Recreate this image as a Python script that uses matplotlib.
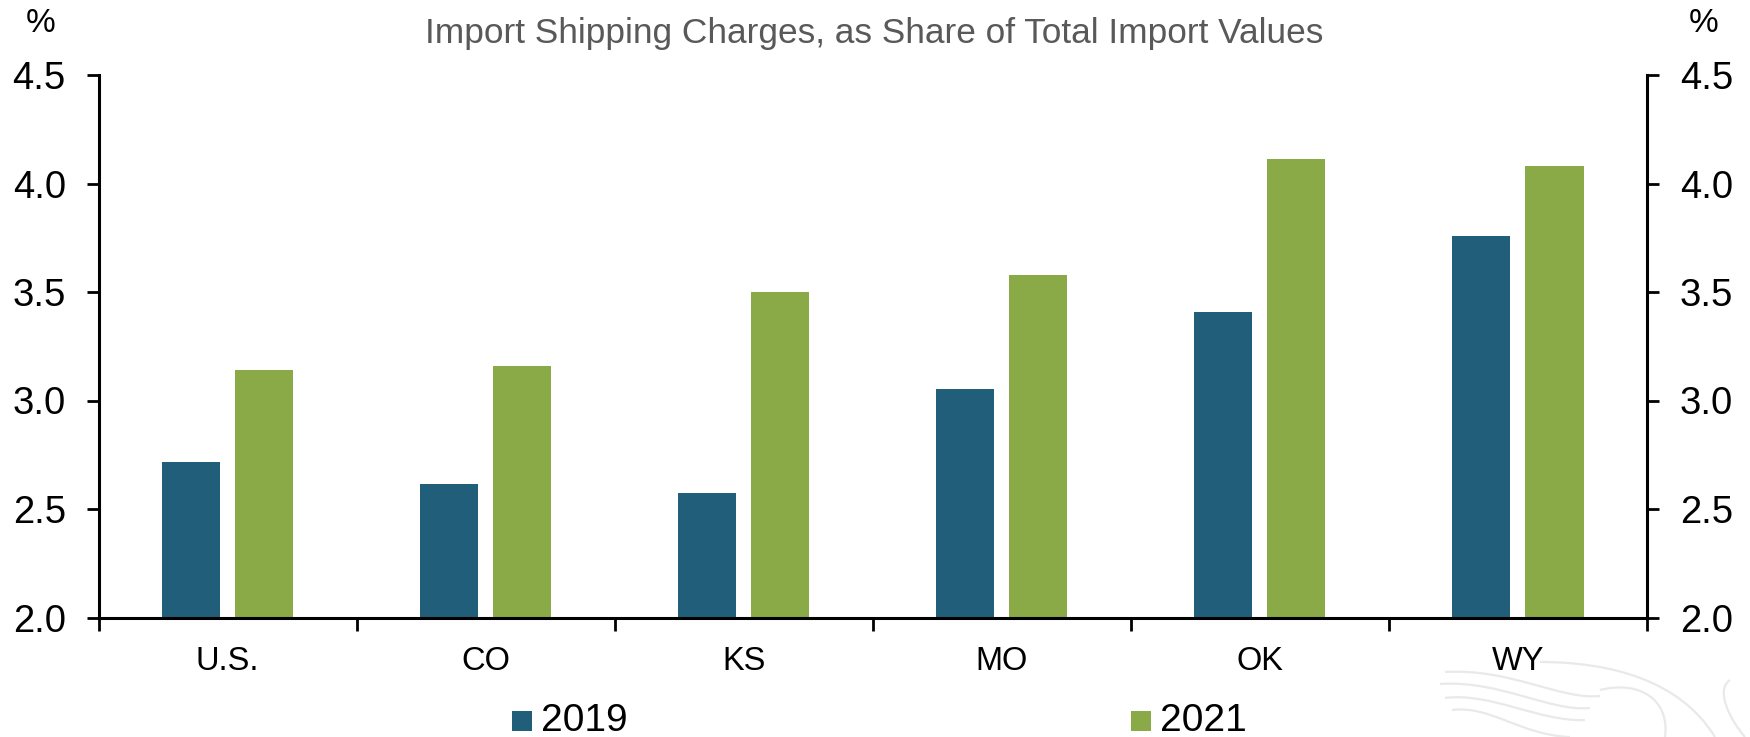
import numpy as np
import matplotlib.pyplot as plt
from matplotlib.patches import Rectangle, PathPatch
from matplotlib.path import Path

plt.rcParams['font.family'] = ['Liberation Sans', 'DejaVu Sans']

states = ['U.S.', 'CO', 'KS', 'MO', 'OK', 'WY']
share_2019 = [2.715, 2.615, 2.575, 3.055, 3.41, 3.76]
share_2021 = [3.14, 3.16, 3.50, 3.58, 4.115, 4.08]
y_ticks = [2.0, 2.5, 3.0, 3.5, 4.0, 4.5]

BLUE = '#215e7a'
GREEN = '#89aa46'
W, H = 1750, 737

fig = plt.figure(figsize=(17.5, 7.37), dpi=100, facecolor='white')
ax = fig.add_axes([98.5 / W, 1 - 617.5 / H, (1647 - 98.5) / W, (617.5 - 75) / H])

x = np.arange(len(states))
ax.bar(x - 0.1415, share_2019, width=0.225, color=BLUE, bottom=0)
ax.bar(x + 0.1415, share_2021, width=0.225, color=GREEN, bottom=0)

ax.set_xlim(-0.5, len(states) - 0.5)
ax.set_ylim(2.0, 4.5)
ax.set_yticks(y_ticks)
ax.set_yticklabels([f'{v:.1f}' for v in y_ticks], fontsize=27.5)
ax.tick_params(axis='y', direction='out', length=8.5, width=2, pad=15, labelcolor='black')
ax.tick_params(axis='y', right=True, labelright=True)

# ticks sit between the groups, labels stay centred
ax.set_xticks(np.arange(len(states) + 1) - 0.5)
ax.set_xticklabels([])
ax.tick_params(axis='x', direction='out', length=9, width=2)
for i, s in enumerate(states):
    fig.text((98.5 + 258.08 * (i + 0.5)) / W, 1 - 662 / H, s, fontsize=23.5,
             ha='center', va='center', color='black')

ax.spines['top'].set_visible(False)
for side in ['left', 'right', 'bottom']:
    ax.spines[side].set_linewidth(2.2)

fig.text(41 / W, 1 - 23 / H, '%', fontsize=24, ha='center', va='center')
fig.text(1704 / W, 1 - 23 / H, '%', fontsize=24, ha='center', va='center')
fig.text(874 / W, 1 - 33 / H, 'Import Shipping Charges, as Share of Total Import Values',
         fontsize=25.4, color='#595959', ha='center', va='center')

# legend
for px, col, lab in [(512, BLUE, '2019'), (1131, GREEN, '2021')]:
    fig.add_artist(Rectangle((px / W, 1 - 731 / H), 20 / W, 20 / H, color=col,
                             transform=fig.transFigure, lw=0))
    fig.text((px + 29) / W, 1 - 721 / H, lab, fontsize=28, ha='left', va='center')

# faint wing watermark, bottom right
wing = [
    [(1445, 672), (1510, 668), (1560, 700), (1600, 696)],
    [(1440, 684), (1500, 680), (1550, 712), (1590, 708)],
    [(1445, 698), (1490, 692), (1540, 722), (1585, 720)],
    [(1452, 710), (1490, 705), (1520, 735), (1570, 737)],
    [(1540, 662), (1610, 662), (1680, 680), (1715, 737)],
    [(1600, 690), (1640, 680), (1670, 700), (1665, 737)],
    [(1730, 680), (1715, 690), (1730, 720), (1745, 737)],
]
for c in wing:
    pts = [(a / W, 1 - b / H) for a, b in c]
    fig.add_artist(PathPatch(Path(pts, [Path.MOVETO, Path.CURVE4, Path.CURVE4, Path.CURVE4]),
                             fc='none', ec='#e9e9e9', lw=1.6, transform=fig.transFigure, zorder=0))

fig.savefig('out.png', dpi=100)
